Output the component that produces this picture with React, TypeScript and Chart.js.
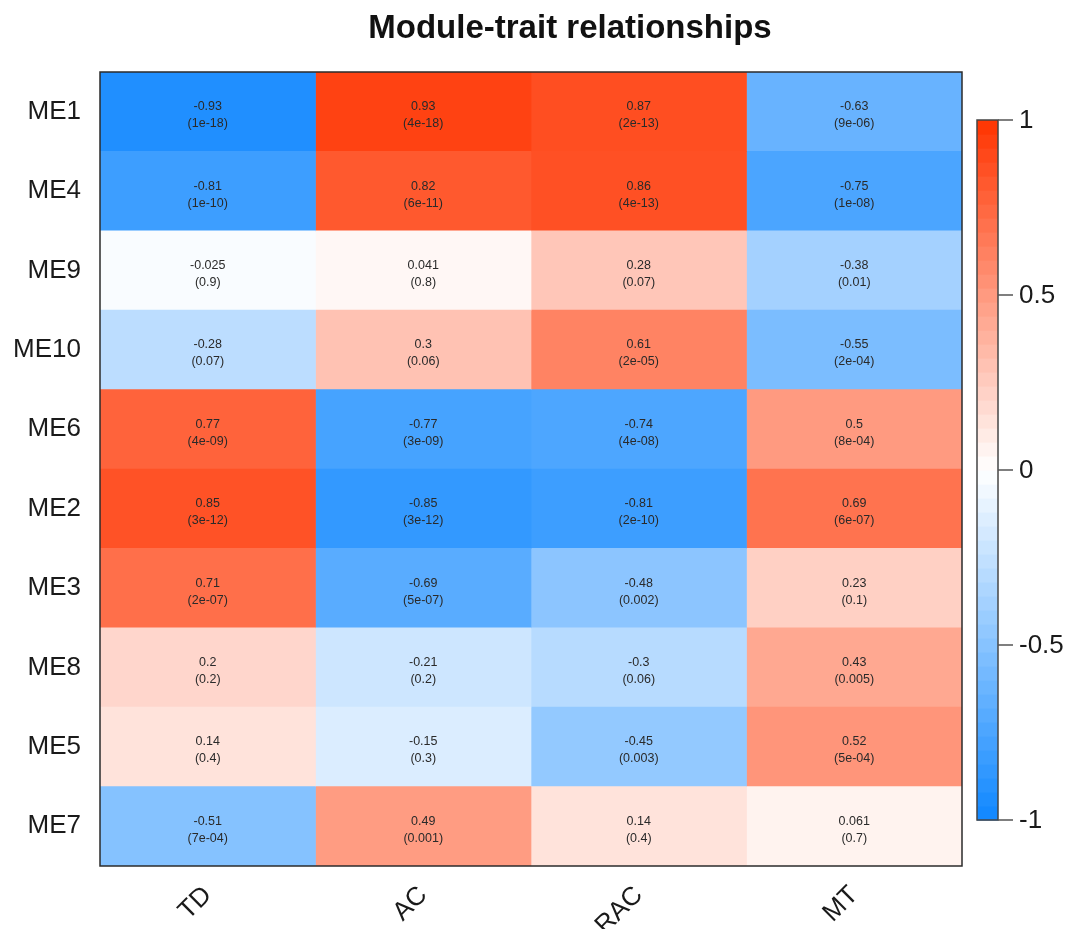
import React, { useEffect, useRef } from "react";
import { Chart, registerables } from "chart.js";

Chart.register(...registerables);

const modules = ["ME1", "ME4", "ME9", "ME10", "ME6", "ME2", "ME3", "ME8", "ME5", "ME7"];
const traits = ["TD", "AC", "RAC", "MT"];

const corTD = [-0.93, -0.81, -0.025, -0.28, 0.77, 0.85, 0.71, 0.2, 0.14, -0.51];
const corAC = [0.93, 0.82, 0.041, 0.3, -0.77, -0.85, -0.69, -0.21, -0.15, 0.49];
const corRAC = [0.87, 0.86, 0.28, 0.61, -0.74, -0.81, -0.48, -0.3, -0.45, 0.14];
const corMT = [-0.63, -0.75, -0.38, -0.55, 0.5, 0.69, 0.23, 0.43, 0.52, 0.061];

const pTD = ["1e-18", "1e-10", "0.9", "0.07", "4e-09", "3e-12", "2e-07", "0.2", "0.4", "7e-04"];
const pAC = ["4e-18", "6e-11", "0.8", "0.06", "3e-09", "3e-12", "5e-07", "0.2", "0.3", "0.001"];
const pRAC = ["2e-13", "4e-13", "0.07", "2e-05", "4e-08", "2e-10", "0.002", "0.06", "0.003", "0.4"];
const pMT = ["9e-06", "1e-08", "0.01", "2e-04", "8e-04", "6e-07", "0.1", "0.005", "5e-04", "0.7"];

const colorbarTicks = [1, 0.5, 0, -0.5, -1];
const titleText = "Module-trait relationships";

const corByTrait = [corTD, corAC, corRAC, corMT];
const pByTrait = [pTD, pAC, pRAC, pMT];

const FONT = 'Arial, "Liberation Sans", Helvetica, sans-serif';

function corColor(v: number): string {
  const t = Math.max(-1, Math.min(1, v));
  const white = [255, 255, 255];
  const neg = [15, 135, 255];
  const pos = [255, 52, 0];
  const target = t < 0 ? neg : pos;
  const a = Math.abs(t);
  const c = white.map((w, k) => Math.round(w + (target[k] - w) * a));
  return `rgb(${c[0]},${c[1]},${c[2]})`;
}

const overlayPlugin = {
  id: "overlay",
  afterDatasetsDraw(chart: any) {
    const { ctx, chartArea, scales } = chart;
    const xs = scales.x;
    const ys = scales.y;
    ctx.save();

    // cell labels
    ctx.fillStyle = "#2a2a2a";
    ctx.font = `12.5px ${FONT}`;
    ctx.textAlign = "center";
    ctx.textBaseline = "middle";
    traits.forEach((_, j) => {
      const cx = xs.getPixelForValue(j + 0.5);
      modules.forEach((__, i) => {
        const cy = ys.getPixelForValue(i);
        ctx.fillText(String(corByTrait[j][i]), cx, cy - 5);
        ctx.fillText(`(${pByTrait[j][i]})`, cx, cy + 12);
      });
    });

    // plot border
    ctx.strokeStyle = "#2b2b2b";
    ctx.lineWidth = 1.5;
    ctx.strokeRect(chartArea.left, chartArea.top, chartArea.right - chartArea.left, chartArea.bottom - chartArea.top);

    // title
    ctx.fillStyle = "#111";
    ctx.font = `bold 33px ${FONT}`;
    ctx.textAlign = "center";
    ctx.textBaseline = "alphabetic";
    ctx.fillText(titleText, 562, 29.5);

    // colorbar
    const cbLeft = chartArea.right + 15;
    const cbWidth = 21;
    const cbTop = 112;
    const cbBottom = 812;
    const cbH = cbBottom - cbTop;
    const nBands = 50;
    for (let k = 0; k < nBands; k++) {
      const v = -1 + ((k + 0.5) * 2) / nBands;
      const y1 = cbBottom - ((k + 1) * cbH) / nBands;
      ctx.fillStyle = corColor(v);
      ctx.fillRect(cbLeft, y1, cbWidth, cbH / nBands + 0.6);
    }
    ctx.strokeStyle = "#444";
    ctx.lineWidth = 1.5;
    ctx.strokeRect(cbLeft, cbTop, cbWidth, cbH);

    ctx.font = `26px ${FONT}`;
    ctx.textAlign = "left";
    ctx.textBaseline = "middle";
    colorbarTicks.forEach((t) => {
      const y = cbBottom - ((t + 1) / 2) * cbH;
      ctx.strokeStyle = "#555";
      ctx.lineWidth = 1.5;
      ctx.beginPath();
      ctx.moveTo(cbLeft + cbWidth, y);
      ctx.lineTo(cbLeft + cbWidth + 15, y);
      ctx.stroke();
      ctx.fillStyle = "#1a1a1a";
      ctx.fillText(String(t), cbLeft + cbWidth + 21, y + 1);
    });

    ctx.restore();
  },
};

export default function App() {
  const canvasRef = useRef<HTMLCanvasElement | null>(null);

  useEffect(() => {
    if (!canvasRef.current) return;
    const datasets = traits.map((t, j) => ({
      label: t,
      data: modules.map(() => [j, j + 1]),
      backgroundColor: corByTrait[j].map((v) => corColor(v)),
      borderWidth: 0,
      barPercentage: 1,
      categoryPercentage: 1,
      grouped: false,
    }));

    const chart = new Chart(canvasRef.current, {
      type: "bar",
      data: { labels: modules, datasets: datasets as any },
      plugins: [overlayPlugin],
      options: {
        indexAxis: "y",
        responsive: true,
        maintainAspectRatio: false,
        animation: false,
        layout: { padding: { top: 64, right: 106, left: 0, bottom: 0 } },
        plugins: {
          legend: { display: false },
          tooltip: { enabled: false },
          title: { display: false },
        },
        scales: {
          x: {
            type: "linear",
            min: 0,
            max: traits.length,
            grid: { display: false, drawTicks: false },
            border: { display: false },
            afterBuildTicks: (scale: any) => {
              scale.ticks = traits.map((_, j) => ({ value: j + 0.5 }));
            },
            afterFit: (scale: any) => {
              scale.height = 63;
            },
            ticks: {
              autoSkip: false,
              minRotation: 45,
              maxRotation: 45,
              padding: 14,
              color: "#1a1a1a",
              font: { family: FONT, size: 26 },
              callback: (_v: any, idx: number) => traits[idx],
            },
          },
          y: {
            type: "category",
            grid: { display: false, drawTicks: false },
            border: { display: false },
            afterFit: (scale: any) => {
              scale.width = 92;
            },
            ticks: {
              padding: 19,
              color: "#1a1a1a",
              font: { family: FONT, size: 26 },
            },
          },
        },
      },
    });
    return () => chart.destroy();
  }, []);

  return (
    <div style={{ width: 1060, height: 921, position: "relative" }}>
      <canvas ref={canvasRef} />
    </div>
  );
}
